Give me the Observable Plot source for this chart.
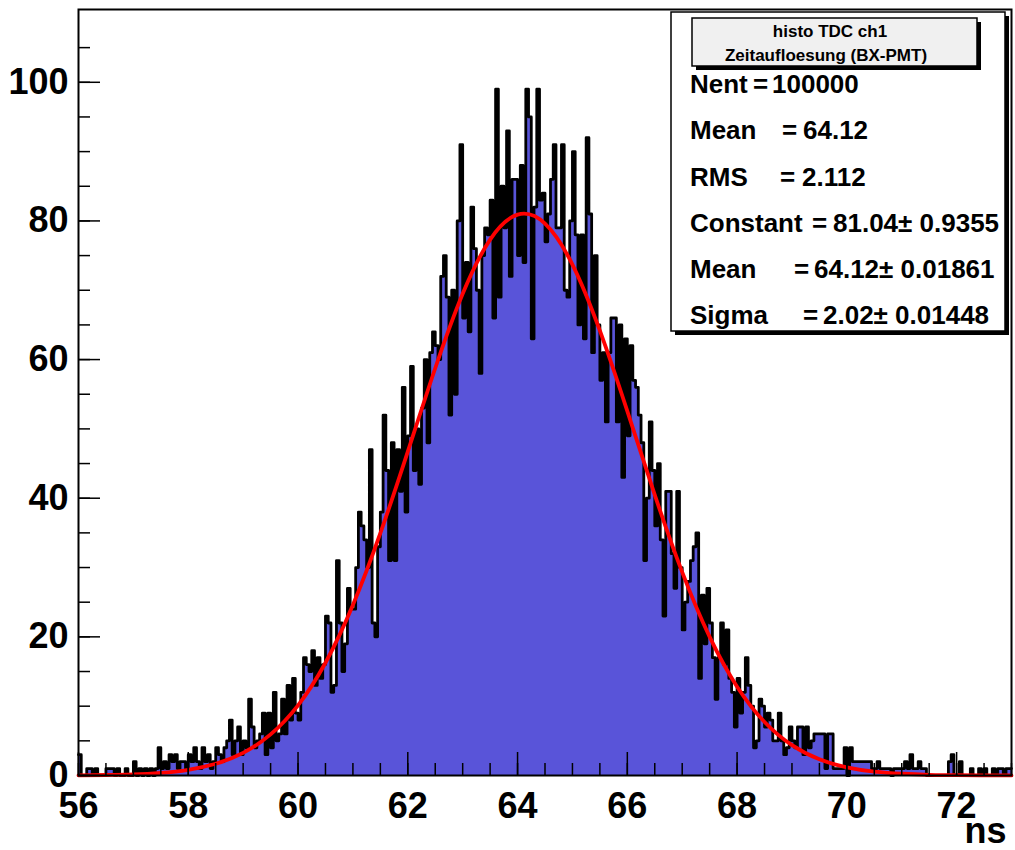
<!DOCTYPE html>
<html>
<head>
<meta charset="utf-8">
<script src="https://cdn.jsdelivr.net/npm/d3@7"></script>
<script src="https://cdn.jsdelivr.net/npm/@observablehq/plot@0.6"></script>
<style>
html, body { margin: 0; padding: 0; background: #ffffff; }
#chart { width: 1015px; height: 850px; }
</style>
</head>
<body>
<div id="chart"></div>
<script>
// ---- data ----
const binStart = 56;
const binWidth = 0.05;
const counts = [
  3,0,0,1,1,0,1,0,0,0,1,1,1,0,1,0,0,1,0,0,
  2,0,1,0,1,0,1,0,1,4,1,2,1,3,2,3,1,2,2,1,
  3,2,4,2,1,4,2,3,1,2,4,3,2,4,5,8,3,5,7,3,
  5,4,11,7,4,5,6,9,3,9,4,12,5,6,11,6,13,8,14,9,
  8,12,17,16,15,18,13,17,14,16,23,22,12,13,31,22,15,19,27,24,
  24,30,38,36,34,30,47,22,20,33,38,52,44,31,48,31,47,41,56,38,
  49,59,44,50,42,53,60,48,61,64,62,60,72,75,69,52,70,55,80,91,
  66,74,64,82,76,70,58,75,79,78,83,66,99,69,85,79,93,72,86,86,
  75,88,74,99,95,63,82,99,83,84,77,81,86,91,79,79,91,70,69,80,
  90,78,65,78,63,92,81,61,75,65,57,61,51,61,66,66,51,65,43,63,
  49,62,57,56,52,48,31,40,51,44,36,45,34,23,41,41,32,27,41,30,
  21,25,28,31,33,35,14,26,19,27,22,17,11,17,22,16,21,14,12,7,
  14,9,12,17,13,10,4,5,11,10,7,9,8,5,5,9,5,3,4,7,
  5,4,7,7,3,7,4,5,6,6,6,6,1,6,6,1,1,1,1,4,
  0,4,2,2,2,2,2,2,2,1,1,2,1,1,1,1,0,1,1,1,
  1,2,1,3,1,1,2,1,1,0,0,0,0,0,0,0,0,2,3,0,
  0,2,0,0,0,1,0,0,1,0,1,0,0,1,0,1,1,0,1,1
];

// red fit curve, read at 0.5 ns steps
const fitX = [56,56.5,57,57.5,58,58.5,59,59.5,60,60.5,61,61.5,62,62.5,63,63.5,64,64.5,65,65.5,66,66.5,67,67.5,68,68.5,69,69.5,70,70.5,71,71.5,72,72.5,73];
const fitY = [0.03,0.07,0.16,0.38,0.82,1.69,3.26,5.93,10.12,16.27,24.59,34.95,46.72,58.75,69.49,77.31,80.90,79.62,73.71,64.17,52.56,40.48,29.33,19.99,12.81,7.72,4.38,2.33,1.17,0.55,0.25,0.10,0.04,0.02,0.01];

const xTicksMajor = [56,58,60,62,64,66,68,70,72];
const xTickLabels = ["56","58","60","62","64","66","68","70","72"];
const yTicksMajor = [0,20,40,60,80,100];
const yTickLabels = ["0","20","40","60","80","100"];
const xAxisTitle = "ns";

const statsTitle = ["histo TDC ch1", "Zeitaufloesung (BX-PMT)"];
const statsNames = ["Nent", "Mean", "RMS", "Constant", "Mean", "Sigma"];
const statsValues = ["100000", "64.12", "2.112", "81.04\u00b1 0.9355", "64.12\u00b1 0.01861", "2.02\u00b1 0.01448"];

// ---- layout ----
const W = 1015, H = 850;
const mL = 78, mR = 4, mT = 9, mB = 75;
const plotW = W - mL - mR, plotH = H - mT - mB;
const FONT = "'Liberation Sans', Arial, Helvetica, sans-serif";

const steps = counts.map((v, i) => ({x: binStart + i * binWidth, v}));
steps.push({x: binStart + counts.length * binWidth, v: counts[counts.length - 1]});
const fitPts = fitX.map((x, i) => ({x, y: fitY[i]}));
const xMinor = d3.range(56, 73.001, 0.5);
const yMinor = d3.range(0, 110, 5);

const chart = Plot.plot({
  width: W, height: H,
  marginLeft: mL, marginRight: mR, marginTop: mT, marginBottom: mB,
  x: {domain: [56, 73], axis: null},
  y: {domain: [0, 110.5], axis: null},
  style: {fontFamily: FONT, background: "white", overflow: "visible", color: "black"},
  marks: [
    Plot.areaY(steps, {x: "x", y: "v", curve: "step-after", fill: "#5954d9"}),
    Plot.lineY(steps, {x: "x", y: "v", curve: "step-after", stroke: "black", strokeWidth: 2.8}),
    Plot.line(fitPts, {x: "x", y: "y", curve: "natural", stroke: "#ff0000", strokeWidth: 3.8}),
    Plot.tickX(xMinor, {x: d => d, insetTop: plotH - 12, stroke: "black", strokeWidth: 1.5}),
    Plot.tickX(xTicksMajor, {x: d => d, insetTop: plotH - 23, stroke: "black", strokeWidth: 1.5}),
    Plot.tickY(yMinor, {y: d => d, insetRight: plotW - 12, stroke: "black", strokeWidth: 1.5}),
    Plot.tickY(yTicksMajor, {y: d => d, insetRight: plotW - 22, stroke: "black", strokeWidth: 1.5}),
    Plot.frame({stroke: "black", strokeWidth: 2}),
    Plot.text(xTicksMajor, {x: d => d, text: (d, i) => xTickLabels[i], frameAnchor: "bottom", lineAnchor: "top", dy: 17, fontSize: 36, fontWeight: "bold", fill: "black"}),
    Plot.text(yTicksMajor, {y: d => d, text: (d, i) => yTickLabels[i], frameAnchor: "left", textAnchor: "end", lineAnchor: "middle", dx: -10, fontSize: 36, fontWeight: "bold", fill: "black"}),
    Plot.text([xAxisTitle], {text: d => d, frameAnchor: "bottom-right", textAnchor: "end", lineAnchor: "bottom", dx: -5, dy: 67, fontSize: 36, fontWeight: "bold", fill: "black"})
  ]
});

// ---- statistics box (ROOT TPaveStats style) ----
const svg = d3.select(chart);
const g = svg.append("g").attr("font-family", FONT).attr("font-weight", "bold")
  .attr("fill", "black").attr("text-anchor", "start");
g.append("rect").attr("x", 675).attr("y", 16).attr("width", 334).attr("height", 319).attr("fill", "black");
g.append("rect").attr("x", 671).attr("y", 12).attr("width", 334).attr("height", 319)
  .attr("fill", "white").attr("stroke", "black").attr("stroke-width", 1.5);
g.append("rect").attr("x", 696).attr("y", 22).attr("width", 285).attr("height", 48).attr("fill", "black");
g.append("rect").attr("x", 692).attr("y", 18).attr("width", 285).attr("height", 48)
  .attr("fill", "#f0f0f0").attr("stroke", "black").attr("stroke-width", 1.5);
g.append("text").attr("x", 830).attr("y", 37).attr("text-anchor", "middle").attr("font-size", 17).text(statsTitle[0]);
g.append("text").attr("x", 826).attr("y", 61).attr("text-anchor", "middle").attr("font-size", 17).text(statsTitle[1]);

const baselines = [93, 139, 185.5, 232, 278, 324];
const eqX = [753, 782, 780, 812, 794, 803];
const valX = [772, 803, 802, 833, 814, 823];
statsNames.forEach((name, i) => {
  g.append("text").attr("x", 690).attr("y", baselines[i]).attr("font-size", 26).text(name);
  g.append("text").attr("x", eqX[i]).attr("y", baselines[i]).attr("font-size", 26).text("=");
  g.append("text").attr("x", valX[i]).attr("y", baselines[i]).attr("font-size", 26).text(statsValues[i]);
});

document.getElementById("chart").appendChild(chart);
</script>
</body>
</html>
